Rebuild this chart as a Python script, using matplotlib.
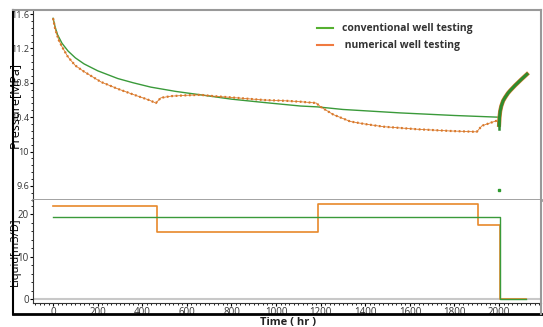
import matplotlib.pyplot as plt
from matplotlib.ticker import AutoMinorLocator, FixedLocator
from matplotlib.lines import Line2D

plt.rcParams['font.family'] = ['Open Sans', 'DejaVu Sans']

# pressure, numerical well testing (hr, MPa)
t_num = [0, 10, 25, 40, 67, 100, 139, 215, 290, 364, 430, 461, 470, 483, 528, 600,
         662, 720, 800, 945, 1050, 1110, 1180, 1200, 1257, 1333, 1400, 1481, 1633,
         1781, 1900, 1923, 1990, 2000]
p_num = [11.55, 11.42, 11.30, 11.22, 11.10, 11.00, 10.93, 10.81, 10.73, 10.66, 10.60,
         10.565, 10.59, 10.625, 10.645, 10.655, 10.66, 10.645, 10.63, 10.60, 10.59,
         10.58, 10.565, 10.52, 10.43, 10.35, 10.32, 10.29, 10.26, 10.24, 10.23,
         10.30, 10.36, 10.31]

# pressure, conventional well testing
t_conv = [0, 10, 20, 40, 67, 100, 139, 200, 290, 360, 438, 550, 662, 800, 950, 1110,
          1186, 1300, 1557, 1800, 2000]
p_conv = [11.55, 11.44, 11.36, 11.26, 11.17, 11.09, 11.02, 10.94, 10.85, 10.80, 10.75,
          10.70, 10.66, 10.61, 10.57, 10.53, 10.52, 10.49, 10.45, 10.42, 10.40]

# build-up after shut-in
t_bu = [2000, 2002, 2005, 2010, 2018, 2027, 2040, 2050, 2072, 2100, 2125]
p_bu = [10.31, 10.40, 10.47, 10.53, 10.59, 10.63, 10.68, 10.71, 10.77, 10.84, 10.90]

t_outlier = [2000]
p_outlier = [9.55]

# liquid rate steps (m3/D)
t_q_num = [0, 465, 465, 1186, 1186, 1906, 1906, 2003, 2003, 2120]
q_num = [22.0, 22.0, 15.8, 15.8, 22.3, 22.3, 17.4, 17.4, 0, 0]
t_q_conv = [0, 2003, 2003, 2120]
q_conv = [19.3, 19.3, 0, 0]

green = '#3a9a3a'
orange = '#d9782a'

fig = plt.figure(figsize=(5.43, 3.27), dpi=100)
ax1 = fig.add_axes([0.0608, 0.3884, 0.9355, 0.581])
ax2 = fig.add_axes([0.0608, 0.0734, 0.9355, 0.315], sharex=ax1)

ax1.plot(t_conv, p_conv, color=green, lw=1.0)
ax1.plot(t_num, p_num, color=orange, lw=0.6)
ax1.plot(t_num, p_num, color=orange, lw=1.6, ls=(0, (0.8, 1.2)))
ax1.plot(t_bu, p_bu, color=orange, lw=3.0)
ax1.plot(t_bu, p_bu, color='#2e8b2e', lw=2.2)
ax1.plot([2000, 2000], [10.40, 10.26], color='#2e8b2e', lw=1.8)
ax1.plot(t_outlier, p_outlier, 's', color='#2e9a2e', ms=2)

ax1.set_ylim(9.437, 11.647)
ax1.set_xlim(-90, 2188)
ax1.yaxis.set_major_locator(FixedLocator([9.6, 10.0, 10.4, 10.8, 11.2, 11.6]))
ax1.set_yticklabels(['9.6', '10', '10.4', '10.8', '11.2', '11.6'])
ax1.yaxis.set_minor_locator(AutoMinorLocator(5))
ax1.set_ylabel('Pressure[MPa]', fontsize=9, labelpad=0)
ax1.yaxis.set_label_coords(-0.024, 0.5)
ax1.tick_params(axis='x', which='both', bottom=False, labelbottom=False)
ax1.tick_params(axis='y', which='both', direction='out', labelsize=6.5, pad=0.5,
                labelcolor='#333333')
ax1.tick_params(axis='y', which='major', length=2.5)
ax1.tick_params(axis='y', which='minor', length=1.5)

leg_handles = [Line2D([], [], color='#55b030', lw=1.5),
               Line2D([], [], color='#f07a40', lw=1.5)]
ax1.legend(leg_handles, ['conventional well testing', ' numerical well testing'],
           loc='upper left', bbox_to_anchor=(0.54, 0.98), frameon=False,
           prop={'weight': 'bold', 'size': 7.5}, handlelength=1.6, labelspacing=0.6,
           labelcolor='#333333')

ax2.axhline(0, color='#c8c8c8', lw=1.5)
ax2.plot(t_q_num, q_num, color='#e8892b', lw=1.2)
ax2.plot(t_q_conv, q_conv, color=green, lw=1.0)
ax2.set_ylim(-0.94, 23.3)
ax2.set_yticks([0, 10, 20])
ax2.yaxis.set_minor_locator(AutoMinorLocator(5))
ax2.set_xticks(range(0, 2001, 200))
ax2.xaxis.set_minor_locator(AutoMinorLocator(10))
ax2.set_ylabel('Liquid[m3/D]', fontsize=8, labelpad=0)
ax2.yaxis.set_label_coords(-0.024, 0.5)
ax2.tick_params(which='both', direction='out', labelsize=7, pad=0.5, labelcolor='#333333')
ax2.tick_params(which='major', length=2.5)
ax2.tick_params(which='minor', length=1.5)
fig.text(0.53, 0.014, 'Time ( hr )', fontsize=8, fontweight='bold', ha='center',
         va='center', color='#222222')

for ax in (ax1, ax2):
    ax.spines['left'].set_color('#333333')
    ax.spines['left'].set_linewidth(0.8)
    ax.spines['right'].set_visible(False)
    ax.spines['top'].set_visible(False)
ax1.spines['bottom'].set_color('#999999')
ax1.spines['bottom'].set_linewidth(2)
ax2.spines['bottom'].set_color('#333333')
ax2.spines['bottom'].set_linewidth(0.8)

# outer frame of the picture
W, H = 543, 327
fig.add_artist(Line2D([13 / W, 13 / W], [1 - 10 / H, 1 - 314 / H], color='black', lw=1.5))
fig.add_artist(Line2D([13 / W, 1], [1 - 314 / H, 1 - 314 / H], color='black', lw=2))
fig.add_artist(Line2D([13 / W, 541 / W], [1 - 10 / H, 1 - 10 / H], color='#999999', lw=1.5))
fig.add_artist(Line2D([541 / W, 541 / W], [1 - 10 / H, 1 - 314 / H], color='#999999', lw=1.5))

fig.savefig('out.png', dpi=100)
